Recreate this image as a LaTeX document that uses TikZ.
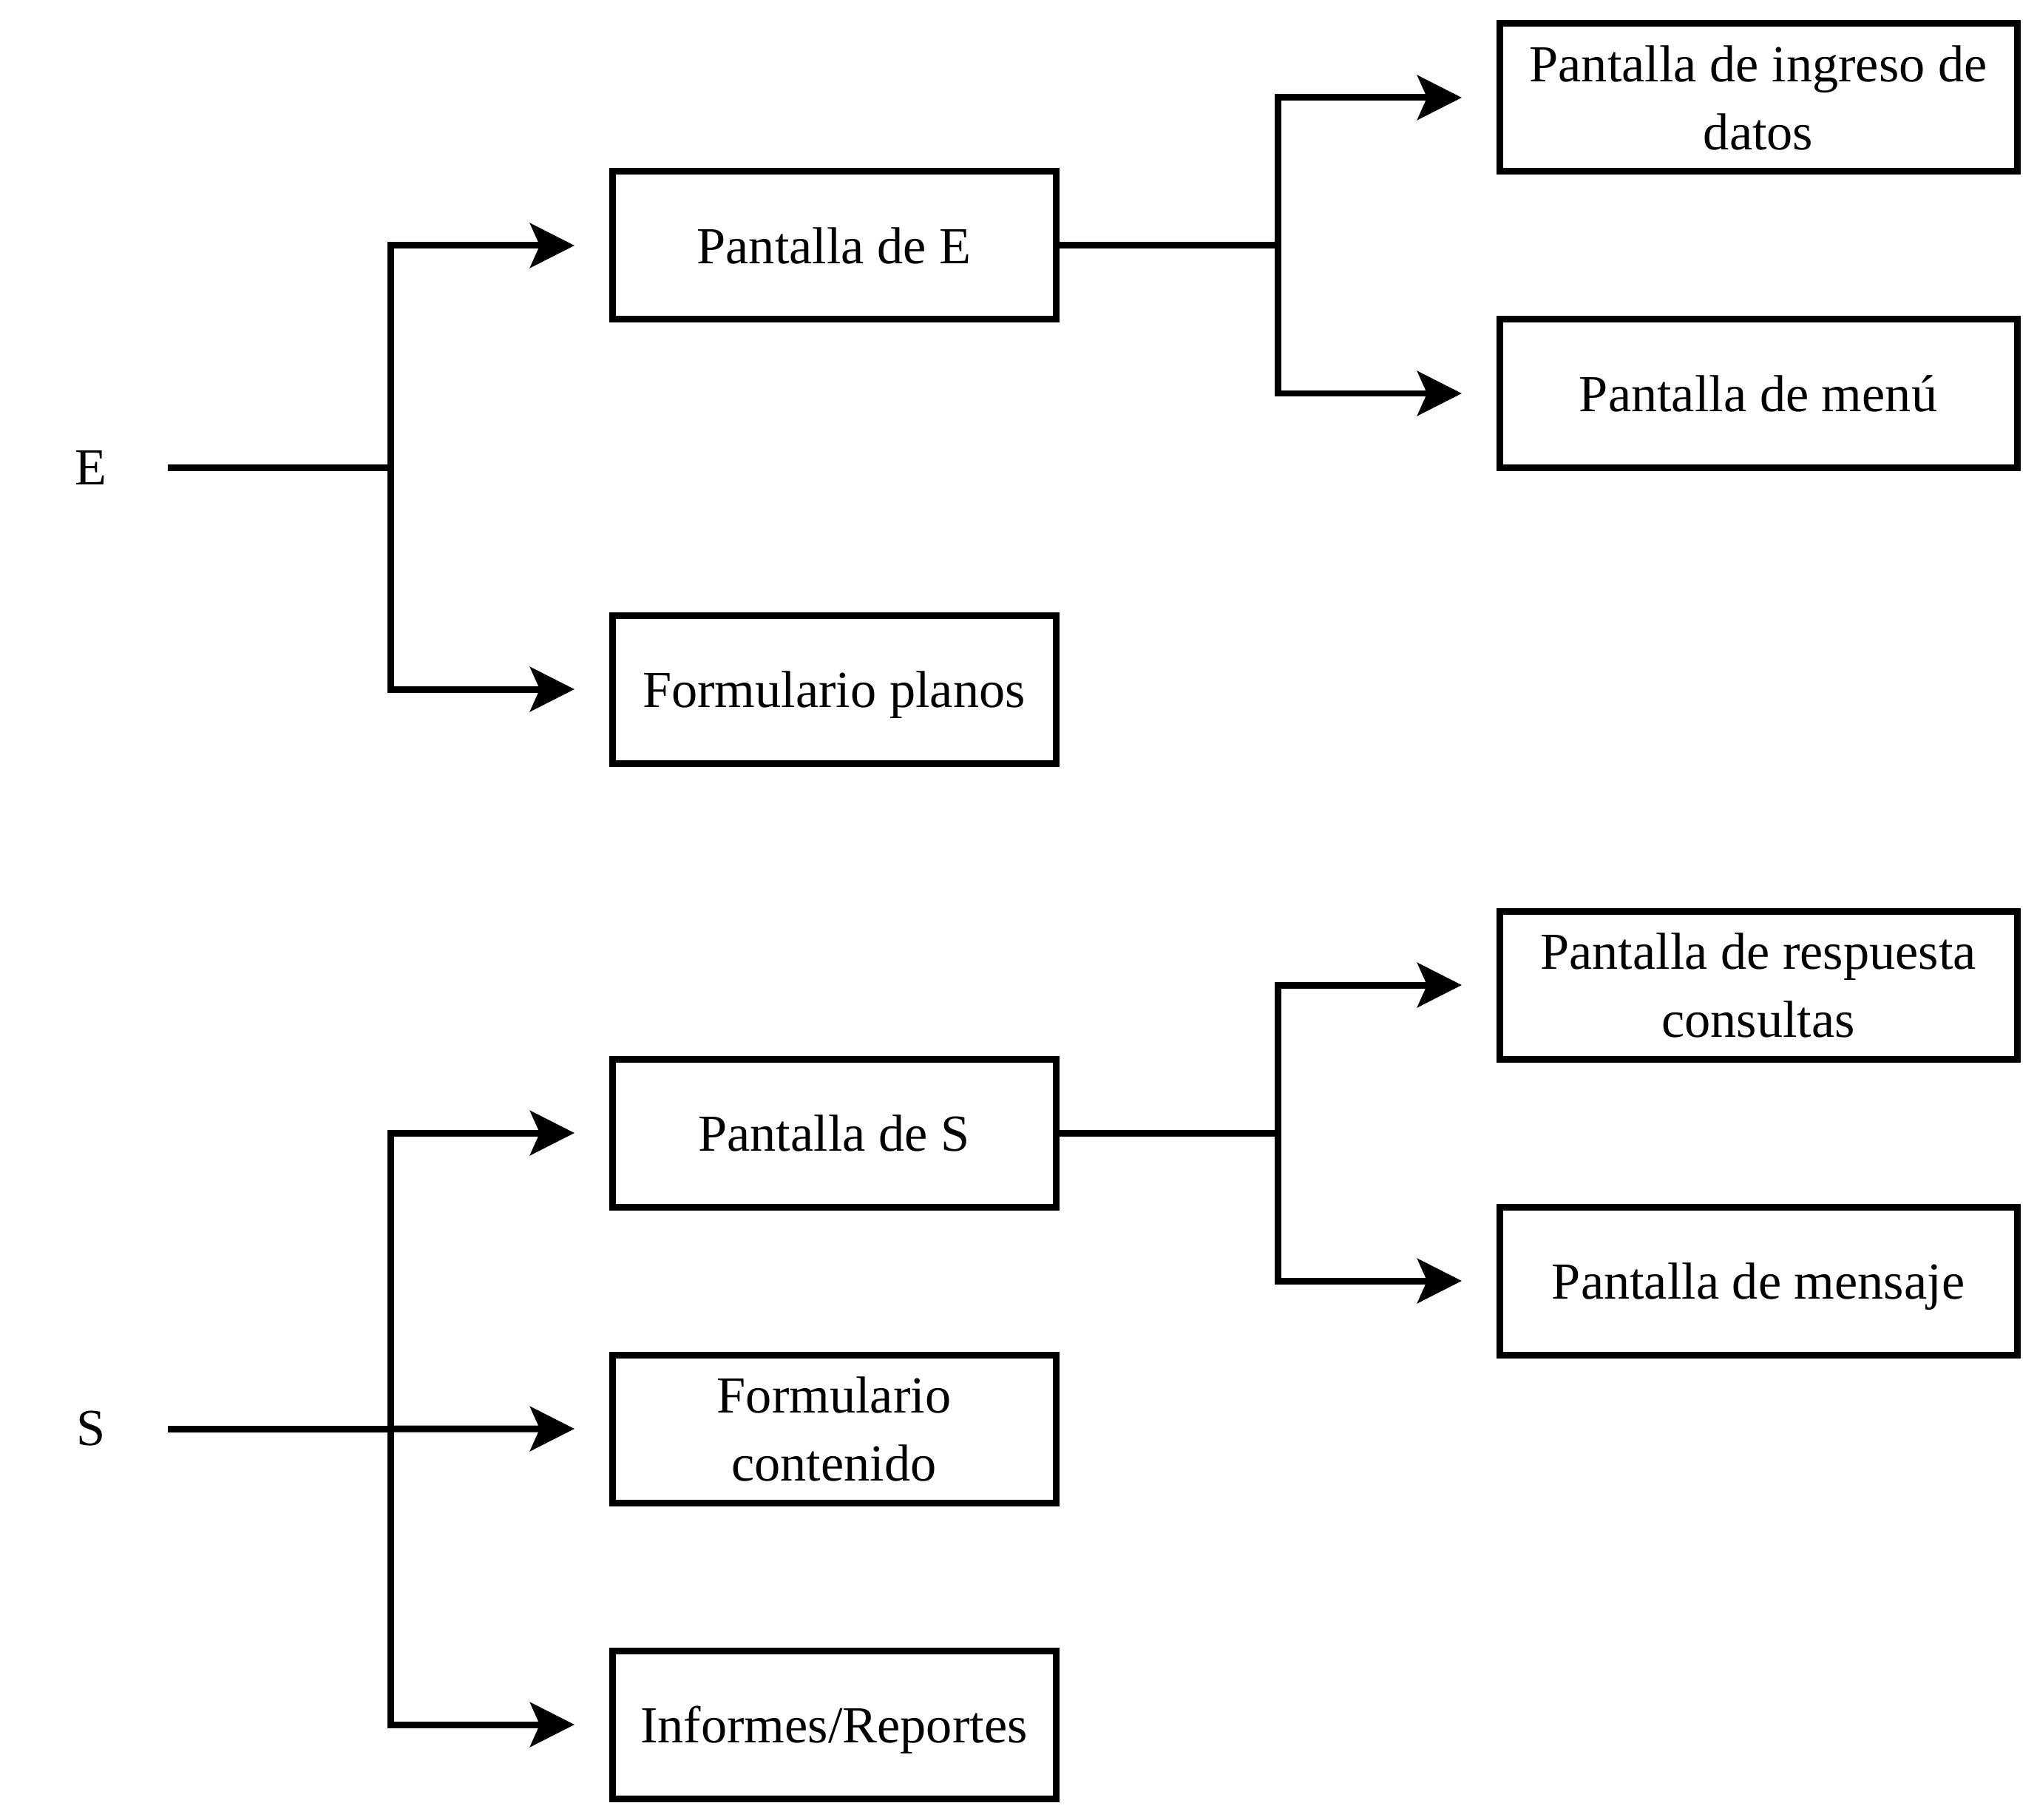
\documentclass[tikz,border=0pt]{standalone}
\usepackage{fontspec}
\setmainfont{Liberation Serif}
\usepackage{tikz}
\usetikzlibrary{arrows.meta}
\usetikzlibrary{positioning}

\begin{document}
\begin{tikzpicture}[font=\fontsize{20}{26}\selectfont]
    \tikzstyle{main}=[rectangle, draw=black, line width=0.09cm, outer sep=0pt, minimum width=6cm, minimum height=2cm, align=center, text depth=0pt]
    \tikzstyle{wide}=[main, minimum width=7cm]
    \tikzstyle{connect}=[-{Stealth[length=0.6cm, width=0.6cm, inset=0.13cm]}, line width=0.09cm, shorten >=0.51cm]
    \tikzstyle{line}=[line width=0.09cm]
    \useasboundingbox (0,0) rectangle (27.55,-24.6);
      \node[main] (pe) at (11.28,-3.32) {Pantalla de E};
      \node[main] (fp) [below=4cm of pe] {Formulario planos};
      \node[main] (ps) [below=4cm of fp] {Pantalla de S};
      \node[main] (fc) [below=2cm of ps] {Formulario\\contenido};
      \node[main] (ir) [below=2cm of fc] {Informes/Reportes};

      \node[wide] (pi) [above right=0cm and 6cm of pe] {Pantalla de ingreso de\\datos};
      \node[wide] (pm) [below right=0cm and 6cm of pe] {Pantalla de menú};
      \node[wide] (pr) [above right=0cm and 6cm of ps] {Pantalla de respuesta\\consultas};
      \node[wide] (pg) [below right=0cm and 6cm of ps] {Pantalla de mensaje};

      \node (E) at (1.23,-6.32) {E};
      \node (S) at (1.23,-19.32) {S};
      \coordinate (es) at (2.27,-6.32);
      \coordinate (ej) at (5.28,-6.32);
      \coordinate (ss) at (2.27,-19.32);
      \coordinate (sj) at (5.28,-19.32);
      \coordinate (pej) at ([xshift=3cm]pe.east);
      \coordinate (psj) at ([xshift=3cm]ps.east);

    %   \draw[connect] (es) -- (fp);
      \draw[line] (es) -- (ej);
      \draw[connect] (ej) |- (pe);
      \draw[connect] (ej) |- (fp);
      \draw[line] (pe) -- (pej);
      \draw[connect] (pej) |- (pi);
      \draw[connect] (pej) |- (pm);

      \draw[line] (ss) -- (sj);
      \draw[connect] (sj) |- (ps);
      \draw[connect] (sj) -- (fc);
      \draw[connect] (sj) |- (ir);
      \draw[line] (ps) -- (psj);
      \draw[connect] (psj) |- (pr);
      \draw[connect] (psj) |- (pg);
\end{tikzpicture}
\end{document}
